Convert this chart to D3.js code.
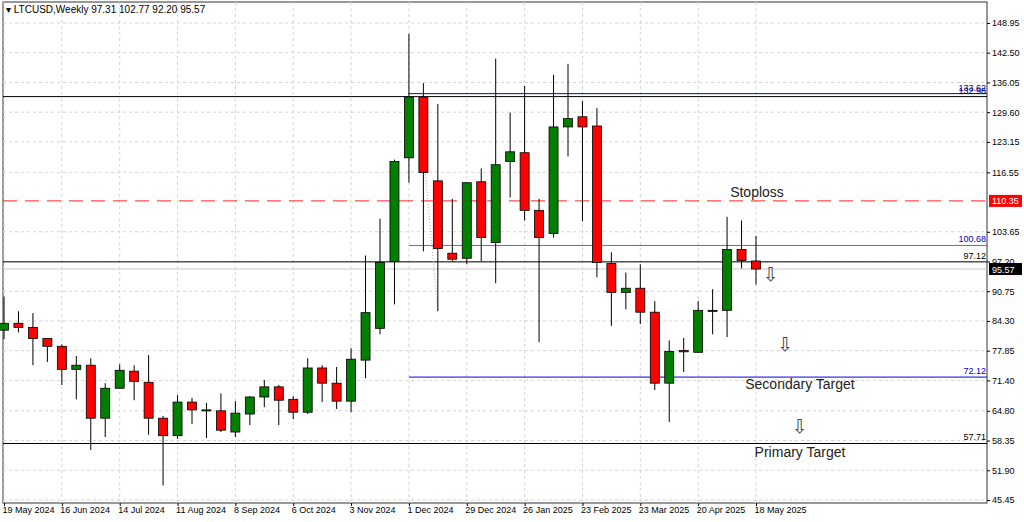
<!DOCTYPE html>
<html><head><meta charset="utf-8">
<script src="https://cdn.jsdelivr.net/npm/d3@7"></script>
<style>body{margin:0;background:#fff}svg{display:block}</style></head>
<body><svg id="c" width="1024" height="522"></svg>
<script>
const dates = ["19 May 2024","16 Jun 2024","14 Jul 2024","11 Aug 2024","8 Sep 2024","6 Oct 2024","3 Nov 2024","1 Dec 2024","29 Dec 2024","26 Jan 2025","23 Feb 2025","23 Mar 2025","20 Apr 2025","18 May 2025"];
const opens  = [82.3,83.8,82.9,80.5,78.8,73.8,74.7,63.2,69.7,73.4,71.0,63.2,59.4,66.7,65.0,64.8,60.2,64.1,67.8,70.0,67.3,64.5,74.1,70.8,66.9,75.8,82.7,97.2,119.7,132.9,114.7,99.0,97.9,114.5,101.3,118.9,120.8,108.3,103.3,126.4,128.6,126.6,96.8,90.5,91.4,86.2,70.8,77.9,77.5,86.4,86.6,99.8,97.31];
const highs  = [89.6,86.4,86.0,80.5,79.2,76.7,76.2,70.8,74.9,74.7,76.9,63.7,68.2,67.6,66.5,68.6,66.9,68.0,71.5,70.4,68.0,76.2,74.7,74.3,78.4,98.5,106.5,119.3,146.6,135.9,131.4,110.8,114.3,117.4,141.2,129.5,135.3,110.8,137.7,140.1,132.0,130.5,99.2,94.8,96.6,88.6,80.1,80.6,88.6,91.2,106.9,106.1,102.77];
const lows   = [80.3,81.8,74.7,75.4,70.4,67.3,56.3,59.1,69.7,67.1,59.6,48.6,58.7,61.9,58.9,60.2,59.1,61.7,65.6,61.7,63.0,64.1,66.7,65.2,64.5,71.9,81.4,87.9,114.3,99.4,86.4,97.2,96.6,97.2,92.5,111.1,106.1,79.7,102.4,120.0,105.9,93.8,83.2,86.8,83.6,69.3,62.4,73.2,77.5,81.4,80.8,95.7,92.20];
const closes = [83.8,82.9,80.5,78.8,73.8,74.7,63.2,69.7,73.6,71.2,63.2,59.4,66.7,65.0,65.0,60.6,64.3,67.8,70.0,67.1,64.5,74.1,70.8,66.9,76.0,86.1,97.0,118.9,132.9,116.5,100.0,97.7,114.3,102.4,118.2,121.0,108.3,102.4,126.4,128.2,126.4,97.0,90.5,91.4,86.2,70.8,77.7,77.6,86.6,86.6,99.8,97.4,95.57];
const yTicks = ["148.95","142.50","136.05","129.60","123.15","116.55","103.65","97.20","90.75","84.30","77.85","71.40","64.80","58.35","51.90","45.45"];
const fullLines = [{v:132.98,c:"#000",lab:"132.98"},{v:97.12,c:"#000",lab:"97.12"},{v:57.71,c:"#000",lab:"57.71"}];
const partLines = [{v:133.62,lab:"133.62"},{v:100.68,lab:"100.68"},{v:72.12,lab:"72.12"}];
const stopLoss = 110.35, lastPrice = 95.57;
const notes = [{t:"Stoploss",v:111.2,x:757},{t:"Secondary Target",v:69.5,x:800},{t:"Primary Target",v:54.8,x:800}];
const arrows = [{i:53,v:93.0},{i:54,v:77.8},{i:55,v:60.0}];

const svg = d3.select("#c");
const L=3,R=987,T=2,B=503;
const y = d3.scaleLinear().domain([45.45,148.95]).range([500,23]);
const x = d3.scaleLinear().domain([0,52]).range([4,756]);
const F="Liberation Sans, Arial, sans-serif";

svg.append("rect").attr("x",L).attr("y",T).attr("width",R-L).attr("height",B-T).attr("fill","#fff").attr("stroke","#333");
const g=svg.append("g");
yTicks.forEach(t=>g.append("line").attr("x1",L).attr("x2",R).attr("y1",y(+t)).attr("y2",y(+t)).attr("stroke","#d4d4d4").attr("stroke-dasharray","3,3"));
dates.forEach((d,k)=>g.append("line").attr("x1",x(k*4)).attr("x2",x(k*4)).attr("y1",T).attr("y2",B).attr("stroke","#d4d4d4").attr("stroke-dasharray","3,3"));

g.append("line").attr("x1",L).attr("x2",R).attr("y1",y(lastPrice)).attr("y2",y(lastPrice)).attr("stroke","#c8c8c8");
fullLines.forEach(l=>g.append("line").attr("x1",L).attr("x2",R).attr("y1",y(l.v)).attr("y2",y(l.v)).attr("stroke",l.c));
partLines.forEach(l=>g.append("line").attr("x1",x(28)).attr("x2",R).attr("y1",y(l.v)).attr("y2",y(l.v)).attr("stroke",l.v===100.68?"#6060ff":"#0000dd"));
g.append("line").attr("x1",L).attr("x2",R).attr("y1",y(stopLoss)).attr("y2",y(stopLoss)).attr("stroke","#ff2020").attr("stroke-dasharray","14,8");
g.append("line").attr("x1",x(29)-5).attr("x2",x(30)).attr("y1",y(133.0)).attr("y2",y(86.4)).attr("stroke","#aaa").attr("stroke-dasharray","1,2");

const data=opens.map((o,i)=>({i,o,h:highs[i],l:lows[i],c:closes[i]}));
const cg=g.selectAll("g.c").data(data).join("g");
cg.append("line").attr("x1",d=>x(d.i)).attr("x2",d=>x(d.i)).attr("y1",d=>y(d.h)).attr("y2",d=>y(d.l)).attr("stroke","#000");
cg.append("rect").attr("x",d=>x(d.i)-4.5).attr("width",9)
 .attr("y",d=>y(Math.max(d.o,d.c))).attr("height",d=>Math.max(1,Math.abs(y(d.o)-y(d.c))))
 .attr("fill",d=>d.c>=d.o?"#007f00":"#ff0000").attr("stroke","#000").attr("stroke-width",0.8);

notes.forEach(n=>g.append("text").attr("x",n.x).attr("y",y(n.v)).attr("text-anchor","middle").attr("font-family",F).attr("font-size",14).attr("fill","#222").text(n.t));
arrows.forEach(a=>g.append("text").attr("x",x(a.i)).attr("y",y(a.v)).attr("text-anchor","middle").attr("font-family","DejaVu Sans").attr("font-size",19).attr("fill","#444").text("⇩"));

fullLines.concat(partLines.map(p=>({v:p.v,c:"#0000cc",lab:p.lab}))).forEach(l=>g.append("text").attr("x",R-1).attr("y",y(l.v)-3).attr("text-anchor","end").attr("font-family",F).attr("font-size",9).attr("fill",l.c).text(l.lab));

const ax=svg.append("g").attr("transform",`translate(${R},0)`).call(d3.axisRight(y).tickValues(yTicks.map(Number)).tickSize(3).tickFormat((d,i)=>yTicks[i]));
ax.select(".domain").remove();
ax.selectAll("text").attr("font-family",F).attr("font-size",9).attr("fill","#000").attr("x",5);
[[stopLoss,"#ff0000"],[lastPrice,"#000"]].forEach(([v,c])=>{
 svg.append("rect").attr("x",989).attr("y",y(v)-6).attr("width",33).attr("height",12).attr("fill",c);
 svg.append("text").attr("x",992).attr("y",y(v)+3.5).attr("font-family",F).attr("font-size",9).attr("fill","#fff").text(v.toFixed(2));
});
const xa=svg.append("g").attr("transform",`translate(0,${B})`).call(d3.axisBottom(x).tickValues(dates.map((d,k)=>k*4)).tickSize(3).tickFormat((d,k)=>dates[k]));
xa.select(".domain").remove();
xa.selectAll("text").attr("font-family",F).attr("font-size",9).attr("fill","#000").attr("text-anchor","start").attr("dx",-2).attr("y",4);
svg.append("text").attr("x",6).attr("y",13).attr("font-family",F).attr("font-size",10).attr("fill","#000").text("▾ LTCUSD,Weekly  97.31 102.77 92.20 95.57");
</script></body></html>
